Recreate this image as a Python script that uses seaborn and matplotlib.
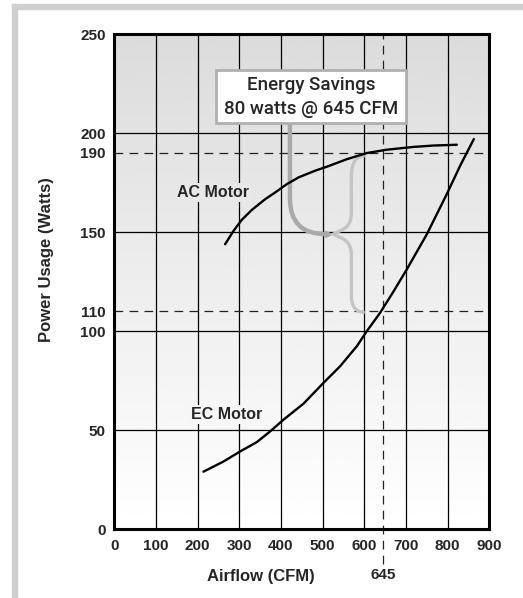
import numpy as np
import pandas as pd
import matplotlib
matplotlib.use('Agg')
import matplotlib.pyplot as plt
import seaborn as sns
from matplotlib.patches import Rectangle, PathPatch
from matplotlib.path import Path

# values
ac_cfm = [266, 286, 306, 330, 362, 386, 414, 442, 482, 510, 558, 606, 654, 718, 766, 822]
ac_watts = [143.9, 150.6, 156.2, 161.2, 166.6, 170.0, 174.2, 177.6, 181.0, 183.0, 186.8,
            189.9, 191.6, 193.0, 193.7, 194.1]

ec_cfm = [214, 262, 302, 342, 374, 406, 454, 502, 542, 582, 606, 638, 670, 702, 750, 798,
          830, 863]
ec_watts = [29.1, 34.2, 39.3, 44.0, 49.4, 55.3, 63.4, 73.9, 82.3, 92.4, 100.0, 109.3,
            120.0, 131.2, 148.9, 169.2, 183.5, 197.0]

x_ticks = [0, 100, 200, 300, 400, 500, 600, 700, 800, 900]
y_ticks = [0, 50, 100, 110, 150, 190, 200, 250]
grid_y = [50, 100, 150, 200]
ref_watts = [110, 190]
ref_cfm = 645
savings_lines = ['Energy Savings', '80 watts @ 645 CFM']

ac = pd.DataFrame({'cfm': ac_cfm, 'watts': ac_watts})
ec = pd.DataFrame({'cfm': ec_cfm, 'watts': ec_watts})

sns.set_style('white')
plt.rcParams['font.family'] = ['Liberation Sans', 'DejaVu Sans']

fig = plt.figure(figsize=(5.23, 5.98), dpi=100)
W, H = 523, 598

# light grey frame at top and left
fig.patches.append(Rectangle((12 / W, 1 - 9 / H), 1, 5 / H, transform=fig.transFigure,
                             color='#cfcfcf', zorder=0))
fig.patches.append(Rectangle((12 / W, 0), 5 / W, 1 - 4 / H, transform=fig.transFigure,
                             color='#cfcfcf', zorder=0))

ax = fig.add_axes([114.3 / W, 1 - 529.3 / H, 375 / W, 495.3 / H])
ax.set_xlim(0, 900)
ax.set_ylim(0, 250)

# vertical grey gradient background
grad = np.linspace(1.0, 0.86, 256).reshape(-1, 1)
ax.imshow(grad, extent=[0, 900, 0, 250], origin='lower', aspect='auto',
          cmap='gray', vmin=0, vmax=1, zorder=0)

for xv in x_ticks[1:-1]:
    ax.axvline(xv, color='black', lw=0.9, zorder=1)
for yv in grid_y:
    ax.axhline(yv, color='black', lw=0.9, zorder=1)
for yv in ref_watts:
    ax.axhline(yv, color='#222222', lw=0.9, dashes=(7, 5), zorder=1)
ax.plot([ref_cfm, ref_cfm], [-17.3, 250], color='#222222', lw=0.9, dashes=(7, 5),
        clip_on=False, zorder=1)

# savings pointer and brace
dark = Path([(421.5, 205), (421.5, 167), (421.5, 149), (507, 149)],
            [Path.MOVETO, Path.LINETO, Path.CURVE3, Path.CURVE3])
ax.add_patch(PathPatch(dark, fill=False, edgecolor='#a9a9a9', lw=3.2, zorder=2,
                       capstyle='butt'))
ax.plot([505, 514], [149, 149], color='#a9a9a9', lw=3.2, zorder=2,
        marker='>', markersize=4, markevery=[1])
brace = Path([(601, 188.5), (569, 188.5), (569, 178),
              (569, 160), (569, 151.5), (546, 151.5), (526, 149),
              (546, 146.5), (569, 146.5), (569, 138),
              (569, 118), (569, 109.5), (601, 109.5)],
             [Path.MOVETO, Path.CURVE3, Path.CURVE3,
              Path.LINETO, Path.CURVE4, Path.CURVE4, Path.CURVE4,
              Path.CURVE4, Path.CURVE4, Path.CURVE4,
              Path.LINETO, Path.CURVE3, Path.CURVE3])
ax.add_patch(PathPatch(brace, fill=False, edgecolor='#c4c4c4', lw=2.4, zorder=2))

sns.lineplot(data=ac, x='cfm', y='watts', ax=ax, color='black', lw=1.7,
             sort=False, estimator=None, zorder=3)
sns.lineplot(data=ec, x='cfm', y='watts', ax=ax, color='black', lw=1.7,
             sort=False, estimator=None, zorder=3)

ax.text(237, 170, 'AC Motor', ha='center', va='center', fontsize=11.5,
        fontweight='bold', zorder=4,
        bbox=dict(boxstyle='square,pad=0.12', fc='#e8e8e8', ec='none'))
ax.text(270, 57.8, 'EC Motor', ha='center', va='center', fontsize=11.5,
        fontweight='bold', zorder=4,
        bbox=dict(boxstyle='square,pad=0.12', fc='#f6f6f6', ec='none'))

ax.add_patch(Rectangle((244, 205), 456, 27, facecolor='white', edgecolor='#b0b0b0',
                       lw=2.0, zorder=5))
narrow = ['Roboto', 'DejaVu Sans']
ax.text(472, 224.3, savings_lines[0], ha='center', va='center', fontsize=13.5,
        family=narrow, fontweight='medium', zorder=6)
ax.text(472, 212.2, savings_lines[1], ha='center', va='center', fontsize=13.5,
        family=narrow, fontweight='medium', zorder=6)

ax.set_xticks(x_ticks)
ax.set_yticks(y_ticks)
ax.set_xticks([ref_cfm], minor=True)
ax.set_xticklabels([str(v) for v in [ref_cfm]], minor=True)
ax.tick_params(axis='both', which='both', length=0, labelsize=11)
ax.tick_params(axis='x', which='major', pad=7)
ax.tick_params(axis='x', which='minor', pad=28)
ax.tick_params(axis='y', pad=6)
for lab in ax.get_xticklabels(which='both') + ax.get_yticklabels():
    lab.set_fontweight('bold')

ax.set_xlabel('')
ax.set_ylabel('')
for sp in ax.spines.values():
    sp.set_visible(True)
    sp.set_color('black')
    sp.set_linewidth(2.2)
    sp.set_zorder(7)

fig.text(261 / W, 1 - 577 / H, 'Airflow (CFM)', ha='center', va='center',
         fontsize=12, fontweight='bold')
fig.text(47 / W, 1 - 260 / H, 'Power Usage (Watts)', ha='center', va='center',
         rotation=90, fontsize=12, fontweight='bold')

fig.savefig('out.png', dpi=100)
